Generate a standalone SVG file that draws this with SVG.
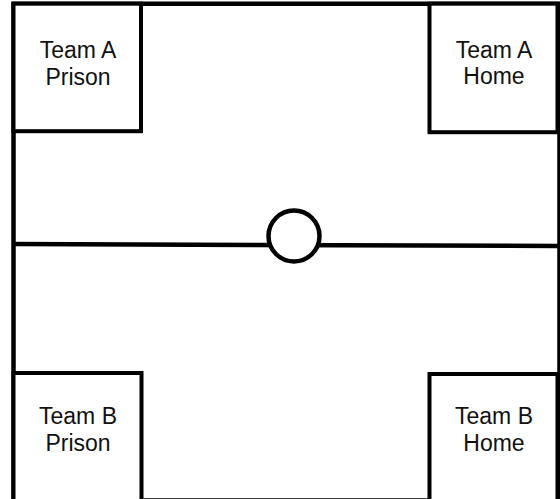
<svg xmlns="http://www.w3.org/2000/svg" width="560" height="499" viewBox="0 0 560 499">
<style>
.ln{stroke:#000;stroke-width:4.5;fill:none}
.bx{stroke:#000;stroke-width:4;fill:#fff}
.t{font-family:"Liberation Sans",Arial,sans-serif;font-size:23px;fill:#111;text-anchor:middle}
</style>
<rect width="560" height="499" fill="#fff"/>
<g id="field">
<path class="ln" d="M13.5,501 V3.7 H559.5 V501 M13.5,500.5 H559.5"/>
</g>
<g id="connectors">
<line class="ln" x1="13.5" y1="244" x2="560" y2="246"/>
</g>
<g id="center-circle">
<circle cx="294" cy="236" r="25.5" fill="#fff" stroke="#000" stroke-width="4.5"/>
</g>
<g id="team-a-prison">
<rect class="bx" x="13.5" y="3.7" width="127.5" height="127.5"/>
<text class="t" x="78" y="58">Team A</text>
<text class="t" x="78" y="85">Prison</text>
</g>
<g id="team-a-home">
<rect class="bx" x="429.5" y="3.7" width="128" height="128.5"/>
<text class="t" x="494" y="58">Team A</text>
<text class="t" x="494" y="84">Home</text>
</g>
<g id="team-b-prison">
<rect class="bx" x="13.5" y="373" width="128" height="130"/>
<text class="t" x="78" y="424">Team B</text>
<text class="t" x="78" y="451">Prison</text>
</g>
<g id="team-b-home">
<rect class="bx" x="429.5" y="374" width="128" height="130"/>
<text class="t" x="494" y="424">Team B</text>
<text class="t" x="494" y="451">Home</text>
</g>
</svg>
